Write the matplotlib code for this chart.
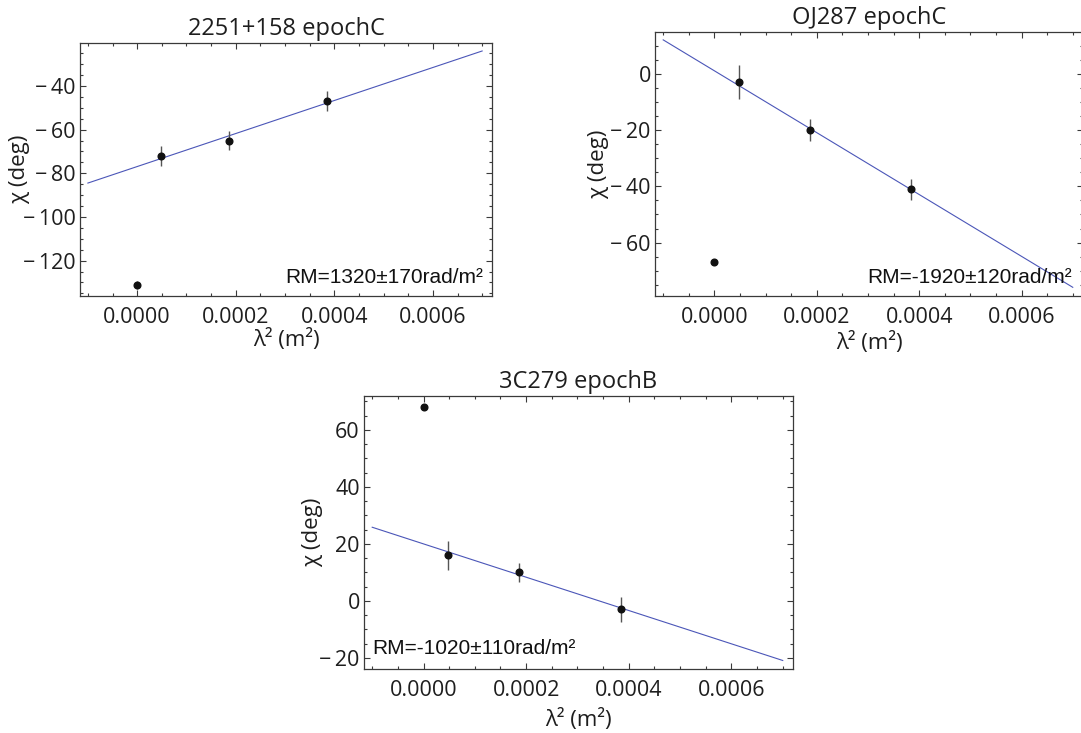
import numpy as np
import matplotlib
matplotlib.use('Agg')
import matplotlib.pyplot as plt
from matplotlib.ticker import MultipleLocator, FormatStrFormatter, FuncFormatter

plt.rcParams['font.family'] = ['Open Sans', 'DejaVu Sans']

# lambda^2 (m^2) for the 0 point, 43, 22, 15 GHz
lam2 = [0.0, 4.86e-5, 1.86e-4, 3.85e-4]

titles = ['2251+158 epochC', 'OJ287 epochC', '3C279 epochB']
chi = [[-131, -72, -65, -47],
       [-67, -3, -20, -41],
       [68, 16, 10, -3]]
chi_err = [[1.8, 4.5, 4.4, 4.5],
           [0, 6.0, 3.8, 3.7],
           [0, 5.0, 3.3, 4.4]]
rm = [1320, -1920, -1020]
rm_err = [170, 120, 110]
chi0 = [-76.9, 1.1, 20.0]    # fitted intercept (deg)
fit_x = [-0.0001, 0.0007]

ylims = [(-136.2, -20.3), (-79.0, 14.9), (-23.9, 71.9)]
yticks = [[-120, -100, -80, -60, -40], [-60, -40, -20, 0], [-20, 0, 20, 40, 60]]
xticks = [0.0, 0.0002, 0.0004, 0.0006]

W, H = 1081, 733
# axes boxes in pixels: left, top, right, bottom
boxes = [(80, 43, 492, 296), (655, 32, 1083, 296), (364, 396, 793, 669)]
ylab_x = [20, 599, 313]
xlab_y = [340, 343, 720]
rm_pos = [(0.978, 0.035, 'right'), (0.975, 0.035, 'right'), (0.019, 0.04, 'left')]


def yfmt(v, p):
    if v < 0:
        return '\u2212\u2009%d' % -v
    return '%d' % v


fig = plt.figure(figsize=(W / 100, H / 100), dpi=100)
line_col = '#4b56b8'
frame_col = '#3a3a3a'
txt_col = '#1e1e1e'

for i in range(3):
    l, t, r, b = boxes[i]
    ax = fig.add_axes([l / W, 1 - b / H, (r - l) / W, (b - t) / H])

    fx = np.array(fit_x)
    ax.plot(fx, chi0[i] + rm[i] * 180 / np.pi * fx, color=line_col, lw=0.8)
    ax.errorbar(lam2, chi[i], yerr=chi_err[i], fmt='o', color='#111111',
                ms=4.8, ecolor='#555555', elinewidth=1.0, capsize=0)

    ax.set_xlim(-0.000116, 0.00072)
    ax.set_ylim(*ylims[i])
    ax.set_xticks(xticks)
    ax.set_yticks(yticks[i])
    ax.xaxis.set_major_formatter(FormatStrFormatter('%.4f'))
    ax.yaxis.set_major_formatter(FuncFormatter(yfmt))
    ax.xaxis.set_minor_locator(MultipleLocator(0.00005))
    ax.yaxis.set_minor_locator(MultipleLocator(5))
    ax.tick_params(which='both', direction='in', top=True, right=True,
                   color=frame_col, width=0.8)
    ax.tick_params(which='major', length=4.5)
    ax.tick_params(which='minor', length=2.5)
    ax.tick_params(axis='x', pad=8, labelsize=15.5, labelcolor=txt_col)
    ax.tick_params(axis='y', pad=3, labelsize=15.5, labelcolor=txt_col)
    for s in ax.spines.values():
        s.set_color(frame_col)
        s.set_linewidth(0.9)

    ax.set_title(titles[i], fontsize=17, pad=6, color=txt_col)
    ax.set_ylabel('\u03c7 (deg)', fontsize=16, va='center', color=txt_col)
    ax.yaxis.set_label_coords((ylab_x[i] - l) / (r - l), 0.5)
    ax.set_xlabel('\u03bb\u00b2 (m\u00b2)', fontsize=16, va='center', color=txt_col)
    ax.xaxis.set_label_coords(0.5, -(xlab_y[i] - b) / (b - t))

    px, py, ha = rm_pos[i]
    ax.text(px, py, 'RM=%d\u00b1%drad/m\u00b2' % (rm[i], rm_err[i]),
            transform=ax.transAxes, ha=ha, va='bottom', fontsize=15,
            family=['Liberation Sans', 'DejaVu Sans'], color='#111111')

fig.savefig('out.png', dpi=100)
